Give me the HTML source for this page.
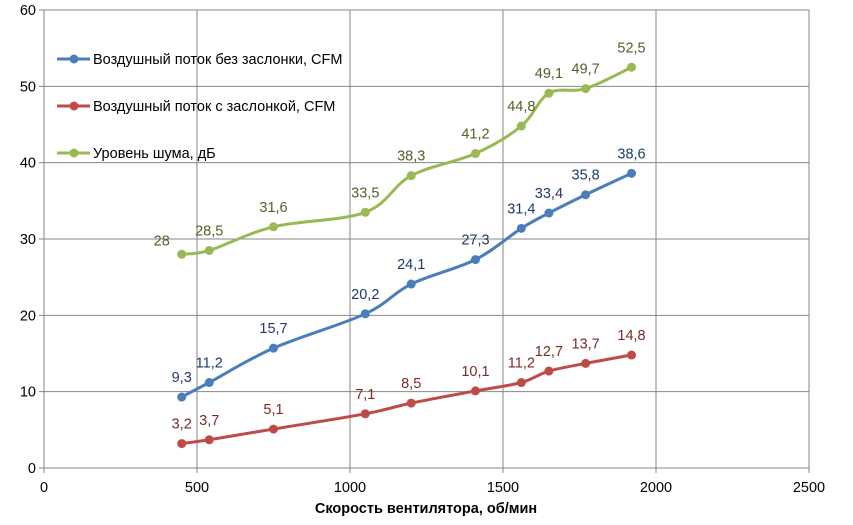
<!DOCTYPE html>
<html><head><meta charset="utf-8"><style>
body{margin:0;background:#fff}
svg text{font-family:"Liberation Sans",sans-serif;font-size:14.5px}
</style></head><body>
<svg id="chart" width="853" height="520" xmlns="http://www.w3.org/2000/svg">
<g id="grid"></g>
<g id="series"></g>
<g id="legend"></g>
<text x="426" y="513" text-anchor="middle" font-weight="bold">Скорость вентилятора, об/мин</text>
</svg>
<script>
const xValues=[450,540,750,1050,1200,1410,1560,1650,1770,1920];
const airNoDamper=[9.3,11.2,15.7,20.2,24.1,27.3,31.4,33.4,35.8,38.6];
const airDamper=[3.2,3.7,5.1,7.1,8.5,10.1,11.2,12.7,13.7,14.8];
const noise=[28,28.5,31.6,33.5,38.3,41.2,44.8,49.1,49.7,52.5];
const xTicks=[0,500,1000,1500,2000,2500];
const yTicks=[0,10,20,30,40,50,60];
const seriesNames=["Воздушный поток без заслонки, CFM","Воздушный поток с заслонкой, CFM","Уровень шума, дБ"];
const NS="http://www.w3.org/2000/svg";
const X0=44,X1=809,Y0=468,Y1=10;
const sx=v=>X0+(v-0)/2500*(X1-X0);
const sy=v=>Y0-(v-0)/60*(Y0-Y1);
function mk(tag,attrs,parent){const e=document.createElementNS(NS,tag);for(const k in attrs)e.setAttribute(k,attrs[k]);parent.appendChild(e);return e;}
const grid=document.getElementById('grid');
yTicks.forEach(t=>{
  const l=mk('line',{x1:X0-5,x2:X1,y1:sy(t),y2:sy(t),stroke:'#868686','stroke-width':1},grid);
  
  
  const tx=mk('text',{x:X0-8,y:sy(t)+5,'text-anchor':'end',fill:'#000'},grid);
  tx.textContent=t;
  
  
});
xTicks.forEach(t=>{
  const l=mk('line',{x1:sx(t),x2:sx(t),y1:Y1,y2:Y0+5,stroke:'#868686','stroke-width':1},grid);
  
  
  const tx=mk('text',{x:sx(t),y:Y0+24,'text-anchor':'middle',fill:'#000'},grid);
  tx.textContent=t;
  
  
});
function smooth(pts){
  let d=`M${pts[0][0]},${pts[0][1]}`;
  for(let i=0;i<pts.length-1;i++){
    const p0=pts[Math.max(0,i-1)],p1=pts[i],p2=pts[i+1],p3=pts[Math.min(pts.length-1,i+2)];
    const t=1/6;
    const c1=[p1[0]+(p2[0]-p0[0])*t,p1[1]+(p2[1]-p0[1])*t];
    const c2=[p2[0]-(p3[0]-p1[0])*t,p2[1]-(p3[1]-p1[1])*t];
    d+=` C${c1[0]},${c1[1]} ${c2[0]},${c2[1]} ${p2[0]},${p2[1]}`;
  }
  return d;
}
const ser=document.getElementById('series');
const defs=[[airNoDamper,'#4a7ebb','#1f3a6e','air-no-damper'],[airDamper,'#be4b48','#7a2a28','air-damper'],[noise,'#98b954','#4f6228','noise']];
defs.forEach(([vals,col,lcol,name],si)=>{
  const g=mk('g',{},ser);
  
  
  const pts=vals.map((v,i)=>[sx(xValues[i]),sy(v)]);
  const p=mk('path',{d:smooth(pts),fill:'none',stroke:col,'stroke-width':3},g);
  
  
  pts.forEach((pt,i)=>{
    const c=mk('circle',{cx:pt[0],cy:pt[1],r:4.5,fill:col},g);
    
    
    let dx=0,dy=-15;
    if(si===2&&i===0){dx=-20;dy=-9;}
    const t=mk('text',{x:pt[0]+dx,y:pt[1]+dy,'text-anchor':'middle',fill:lcol},g);
    t.textContent=String(vals[i]).replace('.',',');
    
    
  });
});
const lg=document.getElementById('legend');
[59,106,153].forEach((y,i)=>{
  const g=mk('g',{},lg);
  
  
  mk('line',{x1:57,x2:90,y1:y,y2:y,stroke:defs[i][1],'stroke-width':3},g);
  mk('circle',{cx:74,cy:y,r:4.5,fill:defs[i][1]},g);
  const t=mk('text',{x:93,y:y+5,fill:'#000'},g);
  t.textContent=seriesNames[i];
});
</script>
</body></html>
